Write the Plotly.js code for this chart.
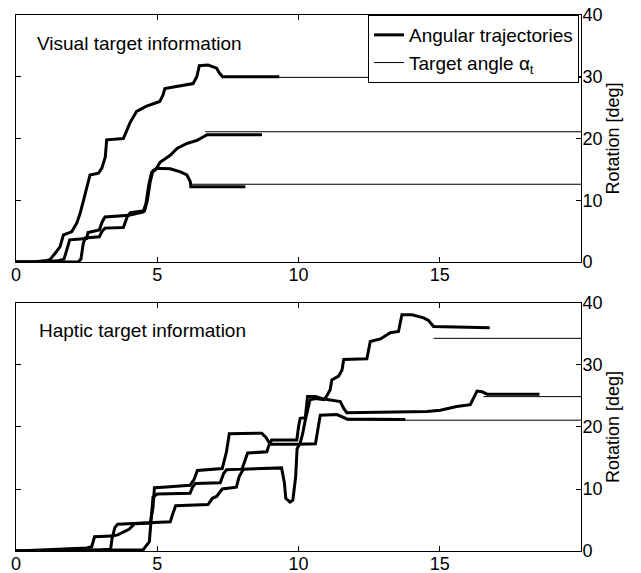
<!DOCTYPE html>
<html>
<head>
<meta charset="utf-8">
<script src="https://cdn.plot.ly/plotly-3.0.1.min.js"></script>
<style>html,body{margin:0;padding:0;background:#fff;}#chart{width:641px;height:573px;}</style>
</head>
<body>
<div id="chart"></div>
<script>
// ---- Data (time in s, rotation in deg) ----
var xTicks = [0, 5, 10, 15];
var yTicks = [0, 10, 20, 30, 40];
var panelLabels = ["Visual target information", "Haptic target information"];
var legendNames = ["Angular trajectories", "Target angle α<sub>t</sub>"];

// Visual target panel: trajectories
var visA_x = [0,0.6,1.0,1.2,1.4,1.56,1.68,1.97,2.15,2.27,2.39,2.51,2.62,2.92,3.04,3.16,3.21,3.8,3.9,4.03,4.27,4.6,5.09,5.2,5.27,5.8,6.27,6.4,6.49,6.8,7.1,7.2,7.31,9.32];
var visA_y = [0,0,0.2,0.4,1.5,2.5,4.4,4.9,6.3,7.9,10,12.2,14.1,14.4,15.2,17,19.8,20,21,22.5,24.4,25.2,26,27,28.1,28.5,28.9,30,31.8,31.9,31.4,30.6,30.0,30.0];
var visB_x = [0,0.8,1.5,1.7,1.8,1.9,2.5,2.55,2.95,3.05,3.15,3.9,4.0,4.5,4.6,4.7,4.8,4.93,5.11,5.46,5.70,6.05,6.41,6.64,6.76,8.71];
var visB_y = [0,0,0.2,0.5,2,3.6,3.8,4.8,5.2,6.5,7.3,7.5,7.6,8.1,9.5,12.5,14.5,14.9,16.2,17.3,18.4,19.2,19.7,20.3,20.6,20.6];
var visC_x = [0,2.2,2.3,2.38,2.45,2.95,3.05,3.15,3.8,3.95,4.05,4.55,4.65,4.75,4.85,4.99,5.46,5.82,6.05,6.17,6.19,8.12];
var visC_y = [0,0,0.5,3,3.9,4.1,5.0,5.5,5.6,7.5,8,8.3,10,13,14.8,15.2,15.1,14.6,14.1,13.0,12.2,12.2];
// Visual target panel: target angles (start x and value)
var visTarget_x0 = [7.3, 6.7, 6.2];
var visTarget_val = [29.9, 21.1, 12.6];

// Haptic target panel: trajectories
var hapD_x = [0,1,2,3,3.35,3.4,3.5,3.6,4.7,5.46,5.55,5.65,6.8,6.95,7.1,7.3,7.8,7.9,8.05,9.4,9.5,9.55,9.7,9.8,9.9,9.95,10.06,10.15,10.24,10.35,10.41,10.6,10.9,11.0,11.12,11.18,11.42,11.54,11.6,12.42,12.54,12.9,13.25,13.54,13.66,14.02,14.43,14.6,14.78,16.77];
var hapD_y = [0,0,0.1,0.2,0.3,2,3.8,4.3,4.5,4.7,6,7.3,7.5,8.5,8.8,10.0,10.3,12.0,13.2,13.4,11,8.5,7.9,8.2,12,16.5,17.4,19,21.1,23,24.4,24.6,24.4,25.0,26.0,27.6,28.2,29.2,30.9,31.0,33.8,34.2,35.2,35.4,38.1,38.1,37.6,37.2,36.2,36.0];
var hapE_x = [0,1.5,3,4.5,4.6,4.72,4.8,4.85,5.0,6.16,6.25,6.35,7.23,7.35,7.45,8.0,8.1,8.2,8.88,8.95,9.05,9.94,10.0,10.06,10.24,10.32,10.6,10.9,11.48,11.6,11.71,13.6,14.55,15.02,15.6,16.08,16.2,16.32,16.5,16.67,18.53];
var hapE_y = [0,0.1,0.1,0.2,0.8,1.5,6,8.7,9.2,9.3,10.3,10.9,11.0,12.5,13.1,13.2,14.5,15.8,16.0,17.0,17.9,17.9,20,21.4,21.5,24.9,24.9,24.5,24.1,23,22.3,22.5,22.5,22.7,23.3,23.6,24.6,25.8,25.7,25.3,25.3];
var hapF_x = [0,0.8,1.5,2.5,2.68,2.78,3.39,3.6,4.0,4.2,4.75,4.85,4.9,5.2,6.16,6.3,6.42,7.3,7.45,7.55,8.7,8.85,9.0,10.0,10.6,10.7,10.77,11.36,11.6,11.71,13.78];
var hapF_y = [0,0.1,0.3,0.5,0.7,2.3,2.4,2.6,3.5,4.4,4.5,7,10.2,10.3,10.6,11.5,13.0,13.3,16,18.9,19.0,18.3,17.2,17.2,17.3,20,21.9,22.0,21.5,21.3,21.2];
var hapTarget_x0 = [14.78, 16.55, 11.7];
var hapTarget_val = [34.3, 24.9, 21.1];

var xEnd = 20;

// ---- Build traces ----
var thick = {color: '#000', width: 3};
var thin = {color: '#000', width: 1};
var traces = [];
function targetTraces(x0s, vals, xa, ya, showFirst) {
  x0s.forEach(function (x0, i) {
    traces.push({x: [x0, xEnd], y: [vals[i], vals[i]], xaxis: xa, yaxis: ya, mode: 'lines',
      line: thin, name: legendNames[1], showlegend: showFirst && i === 0, legendrank: 2, hoverinfo: 'skip'});
  });
}
targetTraces(visTarget_x0, visTarget_val, 'x', 'y', true);
targetTraces(hapTarget_x0, hapTarget_val, 'x2', 'y2', false);
[[visA_x, visA_y], [visB_x, visB_y], [visC_x, visC_y]].forEach(function (s, i) {
  traces.push({x: s[0], y: s[1], xaxis: 'x', yaxis: 'y', mode: 'lines', line: thick,
    name: legendNames[0], showlegend: i === 0, legendrank: 1, hoverinfo: 'skip'});
});
[[hapD_x, hapD_y], [hapE_x, hapE_y], [hapF_x, hapF_y]].forEach(function (s) {
  traces.push({x: s[0], y: s[1], xaxis: 'x2', yaxis: 'y2', mode: 'lines', line: thick,
    showlegend: false, hoverinfo: 'skip'});
});

var fam = 'Liberation Sans, Arial, sans-serif';
var tickFont = {family: fam, size: 18, color: '#000'};
var textFont = {family: fam, size: 19, color: '#000'};
function xAxis(anchor) {
  return {range: [0, xEnd], tickvals: xTicks, ticks: 'inside', ticklen: 5, tickcolor: '#000',
    showline: true, linecolor: '#000', linewidth: 1, mirror: 'ticks', showgrid: false, zeroline: false,
    anchor: anchor, tickfont: tickFont, ticklabelstandoff: -4};
}
function yAxis(dom, anchor) {
  return {range: [0, 40], tickvals: yTicks, domain: dom, side: 'right', anchor: anchor,
    ticks: 'inside', ticklen: 5, tickcolor: '#000', showline: true, linecolor: '#000', linewidth: 1,
    mirror: 'ticks', showgrid: false, zeroline: false, tickfont: tickFont, ticklabelstandoff: -3,
    title: {text: 'Rotation [deg]', font: tickFont, standoff: 4}};
}

var layout = {
  width: 641, height: 573,
  margin: {l: 16, r: 60, t: 15, b: 22},
  paper_bgcolor: '#fff', plot_bgcolor: '#fff',
  font: textFont,
  showlegend: true,
  xaxis: xAxis('y'),
  yaxis: yAxis([0.539, 1], 'x'),
  xaxis2: xAxis('y2'),
  yaxis2: yAxis([0, 0.4627], 'x2'),
  legend: {x: 0.9965, y: 1, xanchor: 'right', yanchor: 'top', bgcolor: '#fff',
    bordercolor: '#000', borderwidth: 1, font: textFont, traceorder: 'normal', tracegroupgap: 0,
    entrywidth: 180, entrywidthmode: 'pixels'},
  annotations: [
    {text: panelLabels[0], xref: 'x domain', yref: 'y domain', x: 0.033, y: 0.885,
      xanchor: 'left', yanchor: 'middle', showarrow: false, font: textFont},
    {text: panelLabels[1], xref: 'x2 domain', yref: 'y2 domain', x: 0.038, y: 0.89,
      xanchor: 'left', yanchor: 'middle', showarrow: false, font: textFont}
  ]
};

Plotly.newPlot('chart', traces, layout, {displayModeBar: false, staticPlot: true});
</script>
</body>
</html>
